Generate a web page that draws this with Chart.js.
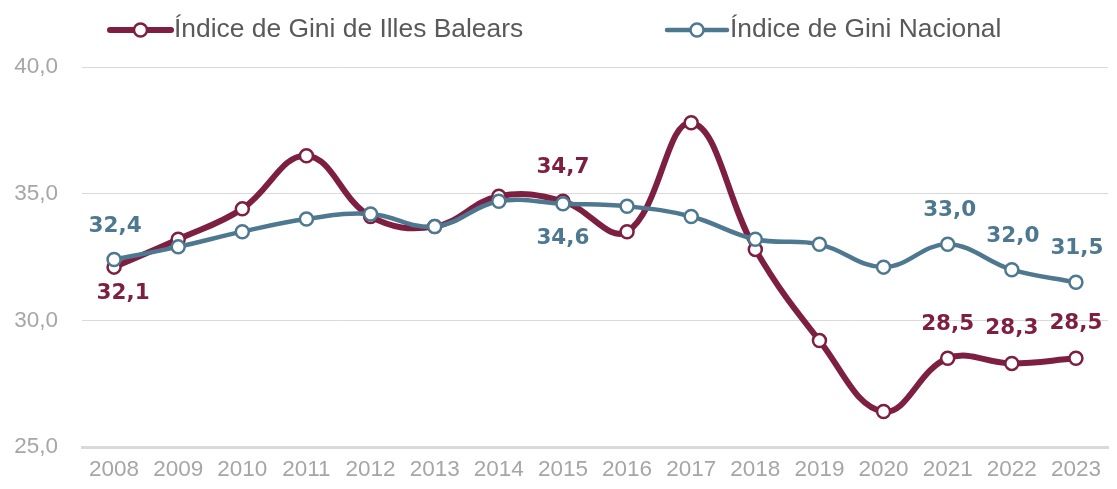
<!DOCTYPE html>
<html lang="es">
<head>
    <meta charset="UTF-8">
    <title>Índice de Gini</title>
    <script src="https://cdn.jsdelivr.net/npm/chart.js"></script>
    <style>
        body { margin: 0; background: #fff; }
        .chart-box { width: 1117px; height: 489px; }
    </style>
</head>
<body>
    <div class="chart-box"><canvas id="giniChart"></canvas></div>

    <script>
        // Data
        const years = ['2008', '2009', '2010', '2011', '2012', '2013', '2014', '2015',
                       '2016', '2017', '2018', '2019', '2020', '2021', '2022', '2023'];
        const giniBaleares = [32.1, 33.2, 34.4, 36.5, 34.1, 33.7, 34.9, 34.7,
                              33.5, 37.8, 32.8, 29.2, 26.4, 28.5, 28.3, 28.5];
        const giniNacional = [32.4, 32.9, 33.5, 34.0, 34.2, 33.7, 34.7, 34.6,
                              34.5, 34.1, 33.2, 33.0, 32.1, 33.0, 32.0, 31.5];
        const seriesNames = ['Índice de Gini de Illes Balears', 'Índice de Gini Nacional'];

        const RED = '#7d1f40';
        const BLUE = '#4d7890';

        const fmt = v => v.toFixed(1).replace('.', ',');

        // which points carry a value label (dataset, index, offset from point)
        const valueLabels = [
            { ds: 1, i: 0, dx: 1, dy: -33 },
            { ds: 0, i: 0, dx: 9, dy: 26 },
            { ds: 0, i: 7, dx: 0, dy: -34 },
            { ds: 1, i: 7, dx: 0, dy: 35 },
            { ds: 1, i: 13, dx: 2, dy: -34 },
            { ds: 1, i: 14, dx: 1, dy: -33 },
            { ds: 1, i: 15, dx: 1, dy: -34 },
            { ds: 0, i: 13, dx: 0, dy: -34 },
            { ds: 0, i: 14, dx: 0, dy: -35 },
            { ds: 0, i: 15, dx: 0, dy: -35 }
        ];

        const labelPlugin = {
            id: 'valueLabels',
            afterDatasetsDraw(chart) {
                const ctx = chart.ctx;
                ctx.save();
                ctx.font = 'bold 21.5px "DejaVu Sans", sans-serif';
                ctx.textAlign = 'center';
                ctx.textBaseline = 'middle';
                valueLabels.forEach(l => {
                    const ds = chart.data.datasets[l.ds];
                    const pt = chart.getDatasetMeta(l.ds).data[l.i];
                    ctx.fillStyle = ds.borderColor;
                    ctx.fillText(fmt(ds.data[l.i]), pt.x + l.dx, pt.y + l.dy);
                });
                ctx.restore();
            }
        };

        // legend: line with hollow circle, then text
        const legendItems = [
            { ds: 0, x1: 110, x2: 171, tx: 174 },
            { ds: 1, x1: 667, x2: 727, tx: 730 }
        ];
        const legendPlugin = {
            id: 'lineLegend',
            afterDraw(chart) {
                const ctx = chart.ctx;
                const y = 30;
                ctx.save();
                legendItems.forEach(it => {
                    const ds = chart.data.datasets[it.ds];
                    ctx.strokeStyle = ds.borderColor;
                    ctx.lineWidth = ds.borderWidth;
                    ctx.lineCap = 'round';
                    ctx.beginPath();
                    ctx.moveTo(it.x1, y);
                    ctx.lineTo(it.x2, y);
                    ctx.stroke();
                    ctx.beginPath();
                    ctx.arc((it.x1 + it.x2) / 2, y, 6.5, 0, Math.PI * 2);
                    ctx.fillStyle = '#fff';
                    ctx.fill();
                    ctx.lineWidth = 2.5;
                    ctx.stroke();
                    ctx.fillStyle = '#595959';
                    ctx.font = '26.4px "Liberation Sans", Arial, sans-serif';
                    ctx.textBaseline = 'middle';
                    ctx.textAlign = 'left';
                    ctx.fillText(ds.label, it.tx, y);
                });
                ctx.restore();
            }
        };

        new Chart(document.getElementById('giniChart'), {
            type: 'line',
            data: {
                labels: years,
                datasets: [{
                    label: seriesNames[0],
                    data: giniBaleares,
                    borderColor: RED,
                    borderWidth: 6,
                    pointRadius: 6.5,
                    pointBorderWidth: 2.5,
                    pointBackgroundColor: '#fff',
                    pointBorderColor: RED,
                    tension: 0.4,
                    order: 1
                }, {
                    label: seriesNames[1],
                    data: giniNacional,
                    borderColor: BLUE,
                    borderWidth: 4.5,
                    pointRadius: 6.5,
                    pointBorderWidth: 2.5,
                    pointBackgroundColor: '#fff',
                    pointBorderColor: BLUE,
                    tension: 0.4,
                    order: 0
                }]
            },
            options: {
                responsive: true,
                maintainAspectRatio: false,
                animation: false,
                layout: { padding: { top: 67, right: 0, left: 0, bottom: 0 } },
                plugins: {
                    legend: { display: false },
                    tooltip: { enabled: false }
                },
                scales: {
                    x: {
                        offset: true,
                        grid: { display: false, drawTicks: false },
                        border: { display: true, color: '#d9d9d9', width: 3 },
                        ticks: {
                            color: '#a6a6a6',
                            font: { family: '"Liberation Sans", Arial, sans-serif', size: 22.5 },
                            padding: 9,
                            maxRotation: 0,
                            autoSkip: false
                        },
                        afterFit: scale => { scale.height = 42; }
                    },
                    y: {
                        min: 25,
                        max: 40,
                        grid: { color: '#d9d9d9', lineWidth: 1, drawTicks: false },
                        border: { display: false },
                        ticks: {
                            stepSize: 5,
                            color: '#a6a6a6',
                            font: { family: '"Liberation Sans", Arial, sans-serif', size: 22.5 },
                            padding: 24,
                            callback: v => fmt(v)
                        },
                        afterFit: scale => { scale.width = 82; }
                    }
                }
            },
            plugins: [labelPlugin, legendPlugin]
        });
    </script>
</body>
</html>
